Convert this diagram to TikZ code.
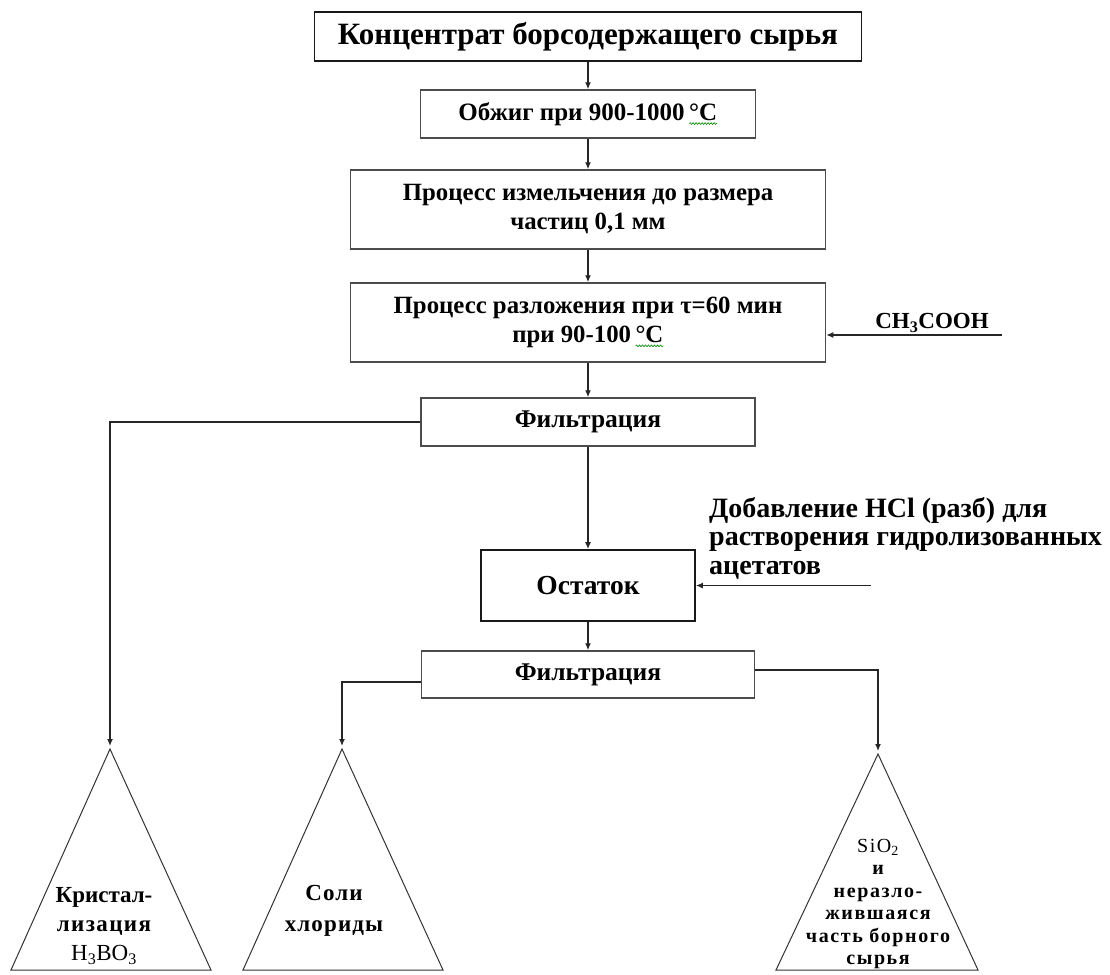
\documentclass[tikz,border=0pt]{standalone}
\usepackage{fontspec}
\setmainfont{Liberation Serif}
\usetikzlibrary{arrows.meta,calc,decorations.pathmorphing}
\newcommand{\gw}[1]{\tikz[baseline=(gwn.base)]{\node[inner sep=0pt,outer sep=0pt,minimum width=0pt,minimum height=0pt,draw=none] (gwn) {#1};
  \draw[green!55!black,line width=0.6pt,decorate,decoration={snake,amplitude=0.9pt,segment length=3pt}] ([yshift=-3pt]gwn.south west) -- ([yshift=-3pt]gwn.south east);}}
\newcommand{\fs}[2]{\fontsize{#1}{#2}\selectfont}
\begin{document}
\begin{tikzpicture}[x=1pt,y=-1pt,
  box/.style={draw=black!70,line width=1.5pt,inner sep=0pt,align=center},
  arr/.style={-{Latex[length=7pt,width=6pt]},line width=1.3pt,draw=black!85},
  tri/.style={draw=black!80,line width=1pt},
  lab/.style={inner sep=0pt,align=center}]
\useasboundingbox[fill=white] (0,0) rectangle (1110,974);

\node[box,draw=black!90,line width=1.8pt,minimum width=547pt,minimum height=49pt,font=\bfseries\fs{31}{36}] (b1) at (588,36.5) {Концентрат борсодержащего сырья};
\node[box,minimum width=335pt,minimum height=48pt,font=\bfseries\fs{25}{29}] (b2) at (588,114) {Обжиг при 900-1000\,\gw{°C}};
\node[box,minimum width=475pt,minimum height=79pt,font=\bfseries\fs{24.8}{29}] (b3) at (588,209.5) {Процесс измельчения до размера\\частиц 0,1 мм};
\node[box,minimum width=475pt,minimum height=79pt,font=\bfseries\fs{24.8}{29}] (b4) at (588,322.5) {Процесс разложения при τ=60 мин\\при 90-100\,\gw{°C}};
\node[box,minimum width=334pt,minimum height=48pt,font=\bfseries\fs{25.5}{29}] (b5) at (588,422) {Фильтрация};
\node[box,draw=black!90,line width=1.8pt,minimum width=214pt,minimum height=71pt,font=\bfseries\fs{27.5}{31}] (ost) at (588,585.5) {Остаток};
\node[box,minimum width=333pt,minimum height=47pt,font=\bfseries\fs{25.5}{29}] (b6) at (588,674.5) {Фильтрация};

\draw[arr] (b1.south) -- (b2.north);
\draw[arr] (b2.south) -- (b3.north);
\draw[arr] (b3.south) -- (b4.north);
\draw[arr] (b4.south) -- (b5.north);
\draw[arr] (b5.south) -- (ost.north);
\draw[arr] (ost.south) -- (b6.north);

% CH3COOH feed
\coordinate (c1) at (1002,335);
\draw[arr] (c1) -- (c1 -| b4.east);
\node[lab,anchor=south,font=\bfseries\fs{23}{26}] (ch) at (932,333) {CH\textsubscript{3}COOH};

% HCl feed
\coordinate (c2) at (871,585.5);
\draw[arr] (c2) -- (ost.east);
\node[lab,anchor=north west,align=left,font=\bfseries\fs{28}{28.5}] (hcl) at (709,497) {Добавление HCl (разб) для\\растворения гидролизованных\\ацетатов};

% triangles
\coordinate (t1) at (110,749);
\coordinate (t2) at (342,749);
\coordinate (t3) at (878,754);
\draw[tri] (t1) -- (11,970) -- (211,970) -- cycle;
\draw[tri] (t2) -- (243,970) -- (443,970) -- cycle;
\draw[tri] (t3) -- (776,970) -- (978,970) -- cycle;

\draw[arr,shorten >=3pt] (b5.west) -| (t1);
\draw[arr,shorten >=3pt] ([yshift=-7.5pt]b6.west) -| (t2);
\draw[arr,shorten >=3pt] ([yshift=4.5pt]b6.east) -| (t3);

\node[lab,font=\bfseries\fs{23}{29}] (k) at (104,926) {Кристал-\\{\addfontfeature{LetterSpace=6}лизация}\\{\mdseries H\textsubscript{3}BO\textsubscript{3}}};
\node[lab,font=\bfseries\fs{23}{31}\addfontfeature{LetterSpace=5}] (s) at (334,911) {Соли\\хлориды};
\node[lab,font=\bfseries\fs{20}{22.4}\addfontfeature{LetterSpace=8}] (si) at (878,904) {{\mdseries SiO\textsubscript{2}}\\и\\неразло-\\жившаяся\\часть борного\hspace*{14pt}\\сырья};
\end{tikzpicture}
\end{document}
